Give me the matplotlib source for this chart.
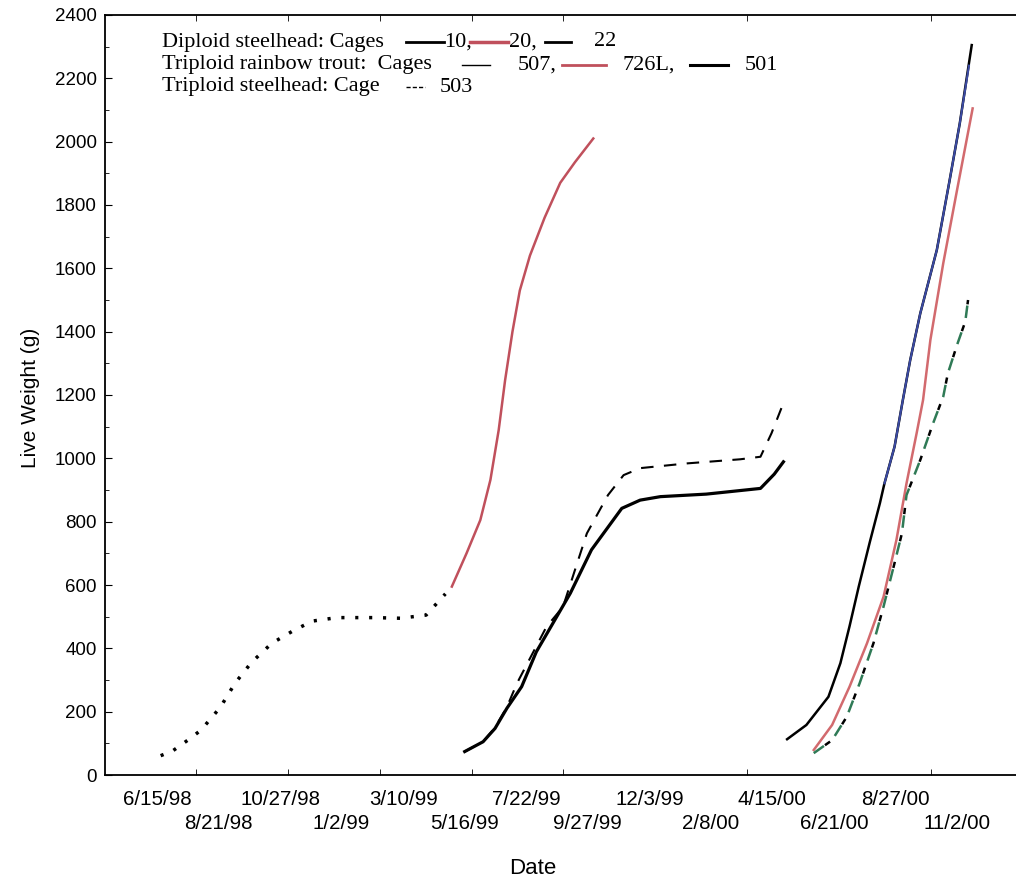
import numpy as np
import pandas as pd
import matplotlib
matplotlib.use("Agg")
import matplotlib.pyplot as plt
from matplotlib.lines import Line2D

# x values are study days counted from 6/15/98
START = pd.Timestamp("1998-06-15")

# dotted diploid steelhead line (first year)
dot_day = [4, 17, 35, 48, 69, 85, 103, 125, 148, 169, 196, 237, 265, 293, 304, 314]
dot_wt = [61, 76, 113, 142, 214, 290, 356, 416, 455, 486, 497, 497, 495, 505, 540, 572]

# red diploid line, second year
red1_day = [321, 337, 352, 363, 372, 379, 387, 395, 406, 422, 439, 455, 475]
red1_wt = [595, 700, 805, 932, 1089, 1247, 1400, 1530, 1640, 1760, 1870, 1935, 2010]

# middle group, solid black
blk1_day = [335, 355, 368, 381, 397, 413, 431, 450, 473, 506, 526, 548, 598, 657, 672, 682]
blk1_wt = [74, 105, 147, 211, 279, 389, 479, 574, 711, 842, 868, 879, 887, 905, 950, 989]

# middle group, dashed black
dsh1_day = [335, 355, 368, 381, 392, 424, 442, 468, 479, 491, 508, 526, 577, 635, 657, 669, 680]
dsh1_wt = [74, 105, 150, 215, 290, 468, 531, 763, 821, 884, 947, 969, 984, 997, 1005, 1079, 1160]

# right group, black solid with blue upper part
blk2_day = [686, 707, 731, 744, 754, 764, 776, 787, 792, 803, 812, 820, 831, 849, 863, 874, 887]
blk2_wt = [113, 158, 247, 353, 470, 595, 735, 858, 921, 1037, 1184, 1310, 1458, 1658, 1879, 2058, 2305]
blue_day = [792, 803, 812, 820, 831, 849, 863, 874, 884]
blue_wt = [921, 1037, 1184, 1310, 1458, 1658, 1879, 2058, 2240]

# right group, red
red2_day = [715, 735, 754, 773, 791, 805, 816, 827, 834, 842, 856, 871, 888]
red2_wt = [79, 158, 279, 416, 563, 742, 921, 1079, 1184, 1374, 1616, 1847, 2105]

# right group, dashed (green / black)
dsh2_day = [715, 735, 751, 765, 780, 791, 802, 811, 816, 831, 845, 856, 861, 871, 880, 883]
dsh2_wt = [69, 110, 184, 290, 416, 532, 658, 763, 884, 995, 1111, 1195, 1268, 1358, 1432, 1500]

row1_dates = ["6/15/98", "10/27/98", "3/10/99", "7/22/99", "12/3/99", "4/15/00", "8/27/00"]
row2_dates = ["8/21/98", "1/2/99", "5/16/99", "9/27/99", "2/8/00", "6/21/00", "11/2/00"]
mark_days = [42.5, 142.5, 242.5, 342.5, 442.5, 642.5, 842.5]


def to_day(labels):
    return [(pd.to_datetime(t, format="%m/%d/%y") - START).days for t in labels]


W, H = 1016, 882
fig = plt.figure(figsize=(W / 100, H / 100), dpi=100)
ax = fig.add_axes([105 / W, (H - 775) / H, (W - 105) / W, (775 - 15) / H])

red = "#c0505c"
red_r = "#d26a6e"
blue = "#3b4aa2"
green = "#2f7a56"

ax.plot(dot_day, dot_wt, color="black", lw=2.5, linestyle=(0, (0.9, 3.1)))
ax.plot(red1_day, red1_wt, color=red, lw=1.8)
ax.plot(dsh1_day, dsh1_wt, color="black", lw=1.5, linestyle=(0, (6, 5)))
ax.plot(blk1_day, blk1_wt, color="black", lw=2.3)
ax.plot(blk2_day, blk2_wt, color="black", lw=1.8)
ax.plot(blue_day, blue_wt, color=blue, lw=1.5)
ax.plot(red2_day, red2_wt, color=red_r, lw=1.8)
ax.plot(dsh2_day, dsh2_wt, color=green, lw=1.8, linestyle=(0, (5, 6)))
ax.plot(dsh2_day, dsh2_wt, color="black", lw=1.8, linestyle=(5.5, (2.5, 8.5)))

ax.set_xlim(-56.6, 935.2)
ax.set_ylim(0, 2400)
ax.spines["right"].set_visible(False)
for s in ["left", "bottom", "top"]:
    ax.spines[s].set_linewidth(1.3)

ax.set_yticks(np.arange(0, 2401, 200))
ax.set_yticks(np.arange(100, 2400, 200), minor=True)
ax.set_xticks(to_day(row1_dates))
ax.set_xticklabels(row1_dates)
ax.set_xticks(mark_days, minor=True)
ax.tick_params(axis="x", which="major", length=0, pad=11, labelsize=14.8)
ax.tick_params(axis="x", which="minor", direction="in", length=4, top=True)
ax.tick_params(axis="y", which="major", direction="in", length=5, pad=6, labelsize=13.5)
ax.tick_params(axis="y", which="minor", direction="in", length=3)

# second row of date labels
sec = ax.secondary_xaxis("bottom")
sec.set_xticks(to_day(row2_dates))
sec.set_xticklabels(row2_dates)
sec.tick_params(axis="x", length=0, pad=28, labelsize=14.8)
sec.spines["bottom"].set_visible(False)

for lab in ax.get_xticklabels() + ax.get_yticklabels() + sec.get_xticklabels():
    lab.set_family("Liberation Sans")

fig.text(30 / W, 1 - 398 / H, "Live Weight (g)", rotation=90, ha="center", va="center",
         fontsize=15, family="Liberation Sans")
fig.text(533 / W, 1 - 868 / H, "Date", ha="center", va="center", fontsize=16,
         family="Liberation Sans")


# hand-made legend
def ltext(x, y, s):
    fig.text(x / W, 1 - y / H, s, ha="left", va="center", fontsize=16, family="Liberation Serif")


def lline(x0, x1, y, **kw):
    fig.add_artist(Line2D([x0 / W, x1 / W], [1 - y / H, 1 - y / H], transform=fig.transFigure, **kw))


y1, y2, y3 = 42, 65, 87
ltext(162, y1, "Diploid steelhead: Cages")
lline(406, 444, y1, color="black", lw=2)
ltext(444, y1, "10,")
lline(470, 508, y1, color=red, lw=2.5)
ltext(509, y1, "20,")
lline(545, 571, y1, color="black", lw=2)
ltext(594, y1, "22")

ltext(162, y2, "Triploid rainbow trout:  Cages")
lline(462, 490, y2, color="black", lw=1)
ltext(518, y2, "507,")
lline(562, 606, y2, color=red, lw=2)
ltext(622, y2, "726L,")
lline(690, 728, y2, color="black", lw=2.2)
ltext(745, y2, "501")

ltext(162, y3, "Triploid steelhead: Cage")
lline(406, 425, y3, color="black", lw=1, linestyle=(0, (3, 1.5)))
ltext(440, y3, "503")

fig.savefig("out.png", dpi=100)
